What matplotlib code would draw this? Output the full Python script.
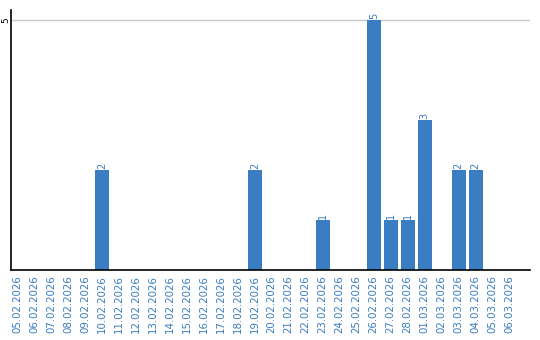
import matplotlib
matplotlib.use("Agg")
import matplotlib.pyplot as plt
import numpy as np

dates = ['05.02.2026', '06.02.2026', '07.02.2026', '08.02.2026', '09.02.2026',
         '10.02.2026', '11.02.2026', '12.02.2026', '13.02.2026', '14.02.2026',
         '15.02.2026', '16.02.2026', '17.02.2026', '18.02.2026', '19.02.2026',
         '20.02.2026', '21.02.2026', '22.02.2026', '23.02.2026', '24.02.2026',
         '25.02.2026', '26.02.2026', '27.02.2026', '28.02.2026', '01.03.2026',
         '02.03.2026', '03.03.2026', '04.03.2026', '05.03.2026', '06.03.2026']
counts = [0, 0, 0, 0, 0, 2, 0, 0, 0, 0,
          0, 0, 0, 0, 2, 0, 0, 0, 1, 0,
          0, 5, 1, 1, 3, 0, 2, 2, 0, 0]

blue = '#3a7dc2'

fig = plt.figure(figsize=(5.4, 3.4), dpi=100)
ax = fig.add_axes([11/540, 70/340, 519/540, 260/340])

x = np.arange(len(dates))
bars = ax.bar(x, counts, width=14/17, color=blue, zorder=2)

for rect, v in zip(bars, counts):
    if v > 0:
        ax.text(rect.get_x() + rect.get_width()/2, v + 0.02, str(v),
                rotation=90, ha='center', va='bottom', color=blue, fontsize=7)

ax.set_xlim(-0.35, 30.2)
ax.set_ylim(0, 5.2)
ax.set_yticks([5])
ax.set_yticklabels(['5'], rotation=90, va='center', fontsize=6.5)
ax.yaxis.grid(True, color='#c8c8c8', linewidth=1, zorder=0)

ax.set_xticks(x)
ax.set_xticklabels(dates, rotation=90, color=blue, fontsize=7.4)
ax.tick_params(axis='x', length=0, pad=4)
ax.tick_params(axis='y', length=0, pad=0.5)

for s in ['top', 'right']:
    ax.spines[s].set_visible(False)
ax.spines['left'].set_linewidth(1.2)
ax.spines['bottom'].set_linewidth(1.2)

fig.savefig('out.png', dpi=100)
